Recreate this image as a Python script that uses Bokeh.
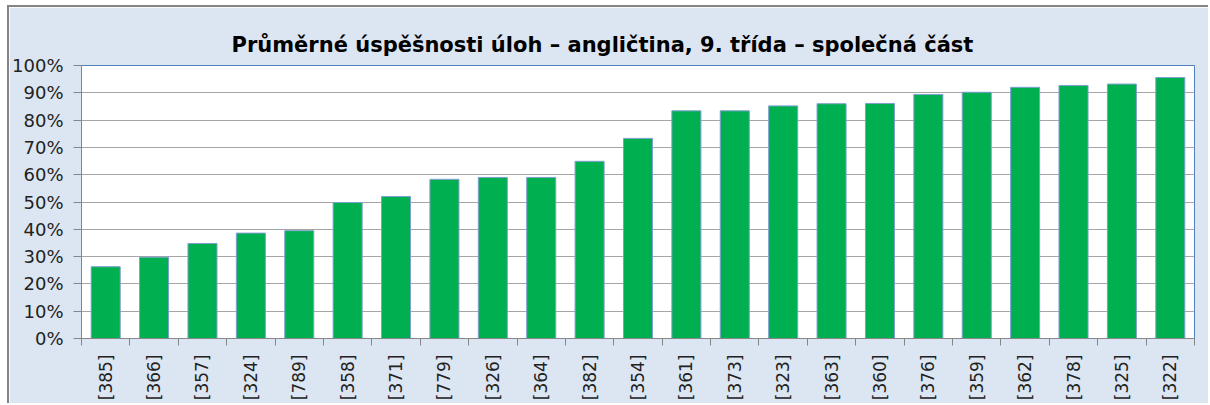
from bokeh.plotting import figure
from bokeh.models import Range1d, FixedTicker, PrintfTickFormatter, ColumnDataSource
from bokeh.embed import file_html
from bokeh.resources import INLINE
import math

categories = ["[385]", "[366]", "[357]", "[324]", "[789]", "[358]", "[371]", "[779]",
              "[326]", "[364]", "[382]", "[354]", "[361]", "[373]", "[323]", "[363]",
              "[360]", "[376]", "[359]", "[362]", "[378]", "[325]", "[322]"]
values = [26.3, 29.8, 34.8, 38.6, 39.5, 49.8, 52.0, 58.3, 59.0, 59.0, 64.9, 73.3,
          83.4, 83.4, 85.2, 86.0, 86.1, 89.4, 90.2, 92.0, 92.7, 93.2, 95.6]
y_ticks = [0, 10, 20, 30, 40, 50, 60, 70, 80, 90, 100]

title_text = "Průměrné úspěšnosti úloh – angličtina, 9. třída – společná část"

n = len(categories)
xs = list(range(n))
src = ColumnDataSource(dict(x=xs, top=values, name=categories))

FONT = "DejaVu Sans"
BG = "#DCE6F2"

p = figure(width=1201, height=398, output_backend="svg", toolbar_location=None,
           x_range=Range1d(-0.5, n - 0.5), y_range=Range1d(0, 100),
           min_border_left=71, min_border_right=16, min_border_top=58, min_border_bottom=67,
           background_fill_color="white", border_fill_color=BG)
p.styles = {"margin-left": "7px", "margin-top": "5px",
            "border-left": "2px solid #858585", "border-top": "2px solid #858585"}

p.title.text = title_text
p.title.align = "left"
p.title.offset = 150
p.title.text_font = FONT
p.title.text_font_size = "21px"
p.title.text_font_style = "bold"
p.title.text_color = "black"
p.title.standoff = 18

p.vbar(x="x", top="top", width=0.6, bottom=0, source=src,
       fill_color="#00B050", line_color="#7F9FD0", line_width=1)

p.outline_line_color = "#4F81BD"
p.outline_line_width = 1

# y axis
p.yaxis.ticker = FixedTicker(ticks=y_ticks)
p.yaxis.formatter = PrintfTickFormatter(format="%d%%")
p.yaxis.axis_line_color = "#868686"
p.yaxis.major_tick_line_color = "#868686"
p.yaxis.major_tick_in = 0
p.yaxis.major_tick_out = 8
p.yaxis.minor_tick_line_color = None
p.yaxis.major_label_text_font = FONT
p.yaxis.major_label_text_font_size = "18px"
p.yaxis.major_label_text_color = "#222222"
p.yaxis.major_label_standoff = 10

# x axis: labels at centers, separator ticks at boundaries
p.xaxis.ticker = FixedTicker(ticks=xs, minor_ticks=[i - 0.5 for i in range(n + 1)])
p.xaxis.major_label_overrides = {i: c for i, c in enumerate(categories)}
p.xaxis.major_label_orientation = math.pi / 2
p.xaxis.major_tick_line_color = None
p.xaxis.major_tick_out = 0
p.xaxis.major_tick_in = 0
p.xaxis.minor_tick_line_color = "#868686"
p.xaxis.minor_tick_in = 0
p.xaxis.minor_tick_out = 7
p.xaxis.axis_line_color = "#868686"
p.xaxis.major_label_text_font = FONT
p.xaxis.major_label_text_font_size = "17px"
p.xaxis.major_label_text_color = "#222222"
p.xaxis.major_label_standoff = 9

p.xgrid.grid_line_color = None
p.ygrid.ticker = FixedTicker(ticks=y_ticks)
p.ygrid.grid_line_color = "#A6A6A6"
p.ygrid.grid_line_width = 1

open("out.html", "w").write(file_html(p, INLINE))
